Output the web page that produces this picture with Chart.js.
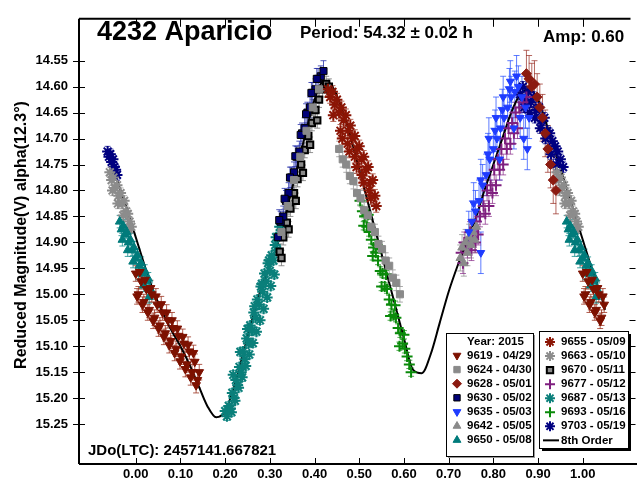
<!DOCTYPE html>
<html>
<head>
<meta charset="utf-8">
<script src="https://cdn.jsdelivr.net/npm/chart.js@4.4.0/dist/chart.umd.min.js"></script>
<style>
  html, body { margin: 0; padding: 0; background: #fff; }
  canvas { display: block; }
</style>
</head>
<body>
<canvas id="lcChart" width="637" height="487"></canvas>
<script>
// axis ticks
const phaseTicks = [0.0, 0.1, 0.2, 0.3, 0.4, 0.5, 0.6, 0.7, 0.8, 0.9, 1.0];
const magTicks = [14.55, 14.60, 14.65, 14.70, 14.75, 14.80, 14.85, 14.90, 14.95, 15.00, 15.05, 15.10, 15.15, 15.20, 15.25];

// sessions (legend)
const sessionLabels = ["9619 - 04/29", "9624 - 04/30", "9628 - 05/01", "9630 - 05/02", "9635 - 05/03", "9642 - 05/05", "9650 - 05/08",
                       "9655 - 05/09", "9663 - 05/10", "9670 - 05/11", "9677 - 05/12", "9687 - 05/13", "9693 - 05/16", "9703 - 05/19"];
const errBars = [0.015, 0.015, 0.045, 0.02, 0.04, 0.025, 0.012, 0.012, 0.01, 0.015, 0.02, 0.008, 0.008, 0.01];

// phase / reduced magnitude
const ph9619 = [0.000,0.006,0.012,0.018,0.024,0.030,0.036,0.042,0.048,0.054,0.060,0.066,0.072,0.078,0.084,0.090,0.096,0.102,0.108,0.114,0.120,0.126,0.132,0.138,0.142,
                0.003,0.015,0.027,0.039,0.051,0.063,0.075,0.087,0.099,0.111,0.123,0.135,
                0.009,0.021,0.033,0.045,0.057,0.069,0.081,0.093,0.105,0.117,0.129,
                1.000,1.006,1.012,1.018,1.024,1.030,1.036,1.042,1.048,1.003,1.015,1.027,1.039,1.009,1.021,1.033,1.045];
const mg9619 = [14.960,15.000,14.975,15.015,14.990,15.030,15.000,15.045,15.020,15.060,15.035,15.075,15.050,15.090,15.065,15.105,15.080,15.120,15.095,15.135,15.110,15.150,15.130,15.165,15.150,
                15.004,15.020,15.035,15.051,15.066,15.082,15.098,15.113,15.129,15.144,15.160,15.175,
                14.957,14.972,14.988,15.004,15.019,15.035,15.050,15.066,15.082,15.097,15.113,
                14.960,15.000,14.975,15.015,14.990,15.030,15.000,15.045,15.020,15.004,15.020,15.035,15.051,14.957,14.972,14.988,15.004];

const ph9624 = [0.326,0.340,0.354,0.368,0.382,0.396,0.410,0.455,0.463,0.471,0.479,0.487,0.495,0.503,0.511,0.519,0.527,0.535,0.543,0.551,0.559,0.567,0.575,0.583,0.591];
const mg9624 = [14.880,14.830,14.780,14.735,14.685,14.640,14.605,14.720,14.740,14.750,14.772,14.782,14.805,14.815,14.838,14.848,14.870,14.880,14.903,14.913,14.935,14.945,14.968,14.978,15.000];

const ph9628 = [0.874,0.880,0.886,0.892,0.898,0.904,0.910,0.916,0.922,0.928,0.934,0.940];
const mg9628 = [14.575,14.585,14.600,14.595,14.620,14.640,14.660,14.690,14.720,14.750,14.780,14.800];

const ph9630 = [0.318,0.324,0.330,0.336,0.342,0.348,0.354,0.360,0.366,0.372,0.378,0.384,0.390,0.396,0.402,0.408,0.414,0.420,
                0.321,0.333,0.345,0.357,0.369,0.381,0.393,0.405];
const mg9630 = [14.890,14.860,14.850,14.820,14.805,14.775,14.765,14.735,14.725,14.690,14.680,14.650,14.640,14.612,14.605,14.585,14.580,14.570,
                14.857,14.816,14.775,14.734,14.693,14.653,14.612,14.585];

const ph9635 = [0.745,0.752,0.760,0.768,0.776,0.784,0.792,0.800,0.808,0.816,0.824,0.832,0.840,0.848,0.856,0.864,0.868,0.872,0.876,0.880,
                0.756,0.772,0.788,0.804,0.820,0.836,0.852,0.772,0.790,0.806,0.822,0.838,0.814,0.846,0.860];
const mg9635 = [14.880,14.860,14.840,14.820,14.790,14.770,14.740,14.720,14.700,14.680,14.660,14.640,14.620,14.610,14.600,14.620,14.700,14.640,14.720,14.660,
                14.825,14.780,14.730,14.685,14.645,14.605,14.580,14.920,14.700,14.660,14.620,14.590,14.740,14.680,14.660];

const ph9642 = [0.726,0.730,0.734,0.738,0.742,0.746,0.750,0.754,0.758,0.762];
const mg9642 = [14.930,14.910,14.940,14.900,14.920,14.890,14.905,14.880,14.895,14.870];

const ph9650 = [-0.036,-0.032,-0.028,-0.024,-0.020,-0.016,-0.012,-0.008,-0.004,0.000,0.004,0.008,0.012,0.016,0.020,0.024,0.028,0.032,
                -0.030,-0.018,-0.006,0.006,0.018,0.030,
                0.964,0.968,0.972,0.976,0.980,0.984,0.988,0.992,0.996,1.000,1.004,1.008,1.012,1.016,1.020,1.024,1.028,1.032,
                0.970,0.982,0.994,1.006,1.018,1.030];
const mg9650 = [14.860,14.875,14.868,14.885,14.880,14.900,14.895,14.915,14.910,14.930,14.925,14.945,14.940,14.960,14.955,14.975,14.970,14.990,
                14.895,14.915,14.937,14.960,14.983,15.005,
                14.860,14.875,14.868,14.885,14.880,14.900,14.895,14.915,14.910,14.930,14.925,14.945,14.940,14.960,14.955,14.975,14.970,14.990,
                14.895,14.915,14.937,14.960,14.983,15.005];

const ph9655 = [0.430,0.435,0.440,0.445,0.450,0.455,0.460,0.465,0.470,0.475,0.480,0.485,0.490,0.495,0.500,0.505,0.510,0.515,0.520,0.525,0.530,0.535,0.538,
                0.442,0.458,0.474,0.490,0.506,0.522,0.462,0.478,0.494,0.510,0.526];
const mg9655 = [14.605,14.620,14.610,14.635,14.625,14.650,14.640,14.665,14.655,14.685,14.675,14.700,14.695,14.720,14.715,14.740,14.735,14.760,14.755,14.785,14.780,14.810,14.830,
                14.655,14.685,14.710,14.735,14.770,14.800,14.700,14.725,14.755,14.785,14.815];

const ph9663 = [-0.058,-0.054,-0.050,-0.046,-0.042,-0.038,-0.034,-0.030,-0.026,-0.022,-0.018,-0.014,-0.010,-0.052,-0.040,-0.028,-0.016,
                0.942,0.946,0.950,0.954,0.958,0.962,0.966,0.970,0.974,0.978,0.982,0.986,0.990,0.948,0.960,0.972,0.984];
const mg9663 = [14.765,14.780,14.775,14.795,14.790,14.810,14.805,14.825,14.820,14.840,14.845,14.860,14.870,14.800,14.825,14.848,14.875,
                14.765,14.780,14.775,14.795,14.790,14.810,14.805,14.825,14.820,14.840,14.845,14.860,14.870,14.800,14.825,14.848,14.875];

const ph9670 = [0.322,0.330,0.338,0.346,0.354,0.362,0.370,0.378,0.386,0.394,0.402,0.410,0.418,0.426,0.432,
                0.326,0.342,0.358,0.374,0.390,0.406];
const mg9670 = [14.918,14.890,14.862,14.835,14.805,14.778,14.750,14.722,14.695,14.670,14.645,14.625,14.605,14.595,14.600,
                14.930,14.875,14.820,14.766,14.712,14.665];

const ph9677 = [0.728,0.735,0.742,0.748,0.755,0.762,0.770,0.778,0.786,0.794,0.802,0.810,0.818,0.826,0.834,0.842,0.850,0.858,0.866,0.874,
                0.732,0.751,0.766,0.782,0.798,0.814,0.830,0.846,0.790,0.806,0.822,0.838,0.854,0.760];
const mg9677 = [14.920,14.900,14.910,14.880,14.890,14.860,14.850,14.830,14.800,14.790,14.760,14.740,14.720,14.700,14.680,14.670,14.650,14.640,14.630,14.620,
                14.940,14.915,14.885,14.845,14.805,14.760,14.720,14.690,14.830,14.790,14.750,14.710,14.680,14.900];

const ph9687 = [0.200,0.204,0.208,0.212,0.216,0.220,0.224,0.228,0.232,0.236,0.240,0.244,0.248,0.252,0.256,0.260,0.264,0.268,0.272,0.276,0.280,0.284,0.288,0.292,0.296,0.300,0.304,0.308,0.312,0.316,
                0.214,0.222,0.230,0.238,0.246,0.254,0.262,0.270,0.278,0.286,0.294,0.302,0.310,
                0.218,0.234,0.250,0.266,0.282,0.298,0.314,0.322];
const mg9687 = [15.225,15.235,15.215,15.220,15.190,15.200,15.165,15.175,15.140,15.150,15.110,15.125,15.085,15.095,15.060,15.070,15.035,15.045,15.010,15.020,14.985,14.995,14.960,14.975,14.940,14.955,14.925,14.935,14.905,14.915,
                15.227,15.205,15.180,15.160,15.138,15.116,15.094,15.072,15.050,15.028,15.006,14.984,14.962,
                15.155,15.111,15.067,15.023,14.980,14.935,14.890,14.870];

const ph9693 = [0.502,0.507,0.512,0.517,0.522,0.527,0.532,0.537,0.542,0.547,0.552,0.557,0.562,0.567,0.572,0.577,0.582,0.587,0.592,0.597,0.602,0.607,0.612,0.616,
                0.510,0.530,0.550,0.570,0.590,0.520,0.540,0.560,0.580,0.600];
const mg9693 = [14.820,14.840,14.850,14.870,14.880,14.895,14.910,14.920,14.935,14.955,14.960,14.985,14.990,15.010,15.020,15.040,15.045,15.065,15.075,15.095,15.105,15.120,15.135,15.150,
                14.868,14.926,14.985,15.042,15.100,14.847,14.905,14.962,15.021,15.078];

const ph9703 = [-0.063,-0.060,-0.057,-0.054,-0.051,-0.048,-0.045,-0.042,
                0.860,0.866,0.872,0.878,0.884,0.890,0.896,0.902,0.908,0.914,0.920,0.926,0.932,0.938,0.944,0.950,0.956,
                0.869,0.881,0.893,0.905,0.917,0.929,0.941];
const mg9703 = [14.725,14.735,14.730,14.745,14.740,14.755,14.760,14.770,
                14.615,14.600,14.625,14.610,14.630,14.620,14.645,14.640,14.665,14.660,14.685,14.690,14.705,14.715,14.725,14.740,14.755,
                14.640,14.650,14.660,14.680,14.700,14.730,14.750];

// 8th order fit
const fitPhase = [-0.065,-0.04,-0.02,0.00,0.02,0.04,0.06,0.08,0.10,0.12,0.14,0.16,0.18,0.20,0.22,0.24,0.26,0.28,0.30,0.32,0.34,0.36,0.38,0.40,0.42,0.44,0.46,0.48,0.50,0.52,0.54,0.56,0.58,0.60,0.62,0.64,0.66,0.68,0.70,0.72,0.74,0.76,0.78,0.80,0.82,0.84,0.86,0.88,0.90,0.92,0.94,0.96,0.98,1.00,1.02,1.04,1.05];
const fitMag = [14.725,14.785,14.835,14.89,14.945,14.995,15.035,15.07,15.10,15.135,15.175,15.215,15.237,15.225,15.178,15.115,15.05,14.99,14.945,14.895,14.83,14.76,14.69,14.625,14.59,14.60,14.64,14.695,14.76,14.825,14.89,14.955,15.02,15.085,15.145,15.152,15.115,15.055,14.995,14.945,14.90,14.855,14.80,14.75,14.70,14.65,14.615,14.605,14.625,14.675,14.73,14.785,14.84,14.895,14.95,15.00,15.03];

const seriesPhase = [ph9619, ph9624, ph9628, ph9630, ph9635, ph9642, ph9650, ph9655, ph9663, ph9670, ph9677, ph9687, ph9693, ph9703];
const seriesMag = [mg9619, mg9624, mg9628, mg9630, mg9635, mg9642, mg9650, mg9655, mg9663, mg9670, mg9677, mg9687, mg9693, mg9703];

// marker look for each session
const markerStyles = [
    { shape: 'triangle', rot: 180, fill: '#7d1100', line: '#7d1100', bw: 1, r: 5, err: 'rgba(150,40,20,0.75)' },
    { shape: 'rect', rot: 0, fill: '#8a8a8a', line: '#8a8a8a', bw: 1, r: 5, err: 'rgba(150,150,150,0.8)' },
    { shape: 'rectRot', rot: 0, fill: '#8b1a10', line: '#8b1a10', bw: 1, r: 5, err: 'rgba(150,40,30,0.7)' },
    { shape: 'rect', rot: 0, fill: '#000078', line: '#000000', bw: 1, r: 5, err: 'rgba(40,50,170,0.8)' },
    { shape: 'triangle', rot: 180, fill: '#1f3cff', line: '#1f3cff', bw: 1, r: 4.5, err: 'rgba(40,80,255,0.75)' },
    { shape: 'triangle', rot: 0, fill: '#8a8a8a', line: '#8a8a8a', bw: 1, r: 5, err: 'rgba(150,150,150,0.8)' },
    { shape: 'triangle', rot: 0, fill: '#007b7b', line: '#007b7b', bw: 1, r: 5, err: 'rgba(20,140,140,0.8)' },
    { shape: 'star', rot: 0, fill: '#8b1505', line: '#8b1505', bw: 2, r: 5.5, err: 'rgba(150,40,20,0.7)' },
    { shape: 'star', rot: 0, fill: '#8c8c8c', line: '#8c8c8c', bw: 2, r: 5.5, err: 'rgba(160,160,160,0.8)' },
    { shape: 'rect', rot: 0, fill: '#8a8a8a', line: '#000000', bw: 2, r: 4.5, err: 'rgba(120,120,120,0.8)' },
    { shape: 'cross', rot: 0, fill: '#7f1f7f', line: '#7f1f7f', bw: 2, r: 5.5, err: 'rgba(140,50,140,0.75)' },
    { shape: 'star', rot: 0, fill: '#0a7f7a', line: '#0a7f7a', bw: 2, r: 5.5, err: 'rgba(20,140,140,0.8)' },
    { shape: 'cross', rot: 0, fill: '#0a8a0a', line: '#0a8a0a', bw: 2, r: 5.5, err: 'rgba(20,140,20,0.75)' },
    { shape: 'star', rot: 0, fill: '#000080', line: '#000080', bw: 2, r: 5.5, err: 'rgba(30,30,150,0.8)' }
];

const FONT = '"Liberation Sans", Arial, sans-serif';

const datasets = sessionLabels.map((label, i) => {
    const st = markerStyles[i];
    return {
        label: label,
        data: seriesPhase[i].map((p, k) => ({ x: p, y: seriesMag[i][k] })),
        pointStyle: st.shape,
        rotation: st.rot,
        pointRadius: st.r,
        backgroundColor: st.fill,
        borderColor: st.line,
        borderWidth: st.bw,
        errSize: errBars[i],
        errColor: st.err,
        order: 1
    };
});
datasets.push({
    label: '8th Order',
    data: fitPhase.map((p, k) => ({ x: p, y: fitMag[k] })),
    showLine: true,
    pointRadius: 0,
    borderColor: '#000',
    borderWidth: 2,
    cubicInterpolationMode: 'monotone',
    order: 100
});

// vertical error bars under the points
const errorBarPlugin = {
    id: 'errorBars',
    beforeDatasetsDraw(chart) {
        const { ctx, chartArea, scales } = chart;
        ctx.save();
        ctx.beginPath();
        ctx.rect(chartArea.left, chartArea.top, chartArea.right - chartArea.left, chartArea.bottom - chartArea.top);
        ctx.clip();
        ctx.lineWidth = 1;
        chart.data.datasets.forEach(ds => {
            if (!ds.errSize) return;
            ctx.strokeStyle = ds.errColor;
            ctx.beginPath();
            ds.data.forEach(p => {
                const px = scales.x.getPixelForValue(p.x);
                const y1 = scales.y.getPixelForValue(p.y - ds.errSize);
                const y2 = scales.y.getPixelForValue(p.y + ds.errSize);
                ctx.moveTo(px, y1); ctx.lineTo(px, y2);
                ctx.moveTo(px - 3, y1); ctx.lineTo(px + 3, y1);
                ctx.moveTo(px - 3, y2); ctx.lineTo(px + 3, y2);
            });
            ctx.stroke();
        });
        ctx.restore();
    }
};

// frame, inner ticks, labels and the two legend boxes
const decorPlugin = {
    id: 'decor',
    afterDraw(chart) {
        const { ctx, chartArea, scales } = chart;
        const L = chartArea.left, R = chartArea.right, T = chartArea.top, B = chartArea.bottom;
        ctx.save();
        ctx.strokeStyle = '#000';
        ctx.lineWidth = 2;
        ctx.beginPath();
        ctx.moveTo(L, T); ctx.lineTo(R + 1, T);
        ctx.moveTo(L, T); ctx.lineTo(L, B);
        ctx.moveTo(L, B); ctx.lineTo(637, B);
        ctx.stroke();

        ctx.lineWidth = 1;
        ctx.beginPath();
        phaseTicks.forEach(v => {
            const x = Math.round(scales.x.getPixelForValue(v)) + 0.5;
            ctx.moveTo(x, T); ctx.lineTo(x, T + 8);
            ctx.moveTo(x, B); ctx.lineTo(x, B - 6);
        });
        magTicks.forEach(v => {
            const y = Math.round(scales.y.getPixelForValue(v)) + 0.5;
            ctx.moveTo(L - 6, y); ctx.lineTo(L + 6, y);
            ctx.moveTo(R, y); ctx.lineTo(R + 6, y);
        });
        ctx.stroke();

        ctx.fillStyle = '#000';
        ctx.textBaseline = 'middle';
        ctx.textAlign = 'left';
        ctx.font = 'bold 27px ' + FONT;
        ctx.fillText('4232 Aparicio', 97, 33);
        ctx.font = 'bold 17px ' + FONT;
        ctx.fillText('Period: 54.32 \u00b1 0.02 h', 300, 33);
        ctx.fillText('Amp: 0.60', 543, 37);
        ctx.font = 'bold 15px ' + FONT;
        ctx.fillText('JDo(LTC): 2457141.667821', 88, 451);

        ctx.save();
        ctx.translate(22, 235);
        ctx.rotate(-Math.PI / 2);
        ctx.textAlign = 'center';
        ctx.font = 'bold 16px ' + FONT;
        ctx.fillText('Reduced Magnitude(V) alpha(12.3\u00b0)', 0, 0);
        ctx.restore();

        // legend boxes
        const drawBox = (x, y, w, h, shadow, sw) => {
            ctx.fillStyle = shadow;
            ctx.fillRect(x + sw, y + sw, w, h);
            ctx.fillStyle = '#fff';
            ctx.fillRect(x, y, w, h);
            ctx.strokeStyle = '#000';
            ctx.lineWidth = 1;
            ctx.strokeRect(x + 0.5, y + 0.5, w, h);
        };
        drawBox(446, 333, 87, 123, '#9a9a9a', 2);
        drawBox(539, 331, 89, 117, '#000', 3);

        const drawEntry = (i, mx, tx, y) => {
            const st = markerStyles[i];
            ctx.fillStyle = st.fill;
            ctx.strokeStyle = st.line;
            ctx.lineWidth = st.bw;
            Chart.helpers.drawPoint(ctx, { pointStyle: st.shape, radius: st.shape === 'star' || st.shape === 'cross' ? 5 : 4.5, rotation: st.rot, borderWidth: st.bw }, mx, y);
            ctx.fillStyle = '#000';
            ctx.font = 'bold 11.5px ' + FONT;
            ctx.textAlign = 'left';
            ctx.fillText(sessionLabels[i], tx, y);
        };
        ctx.fillStyle = '#000';
        ctx.font = 'bold 11.5px ' + FONT;
        ctx.textAlign = 'left';
        ctx.fillText('Year: 2015', 467, 342);
        for (let i = 0; i < 7; i++) drawEntry(i, 457, 467, 355.5 + i * 14.1);
        for (let i = 7; i < 14; i++) drawEntry(i, 550, 561, 342 + (i - 7) * 14.05);
        const yl = 342 + 7 * 14.05;
        ctx.strokeStyle = '#000';
        ctx.lineWidth = 2;
        ctx.beginPath();
        ctx.moveTo(543, yl); ctx.lineTo(559, yl);
        ctx.stroke();
        ctx.fillStyle = '#000';
        ctx.fillText('8th Order', 561, yl);
        ctx.restore();
    }
};

const lcCtx = document.getElementById('lcChart').getContext('2d');
const lcChart = new Chart(lcCtx, {
    type: 'scatter',
    data: { datasets: datasets },
    options: {
        responsive: false,
        animation: false,
        layout: { padding: { top: 7, right: 5, left: 0, bottom: 0 } },
        plugins: { legend: { display: false }, tooltip: { enabled: false } },
        scales: {
            x: {
                type: 'linear',
                min: -0.127,
                max: 1.1046,
                grid: { display: false, drawTicks: false },
                border: { display: false },
                afterBuildTicks: s => { s.ticks = phaseTicks.map(v => ({ value: v })); },
                afterFit: s => { s.height = 23; },
                ticks: {
                    padding: 3,
                    color: '#000',
                    font: { family: FONT, size: 13, weight: 'bold' },
                    callback: v => Number(v).toFixed(2)
                }
            },
            y: {
                type: 'linear',
                reverse: true,
                min: 14.4693,
                max: 15.3269,
                grid: { display: false, drawTicks: false },
                border: { display: false },
                afterBuildTicks: s => { s.ticks = magTicks.map(v => ({ value: v })); },
                afterFit: s => { s.width = 79; },
                ticks: {
                    padding: 11,
                    color: '#000',
                    font: { family: FONT, size: 13, weight: 'bold' },
                    callback: v => Number(v).toFixed(2)
                }
            }
        }
    },
    plugins: [errorBarPlugin, decorPlugin]
});
</script>
</body>
</html>
